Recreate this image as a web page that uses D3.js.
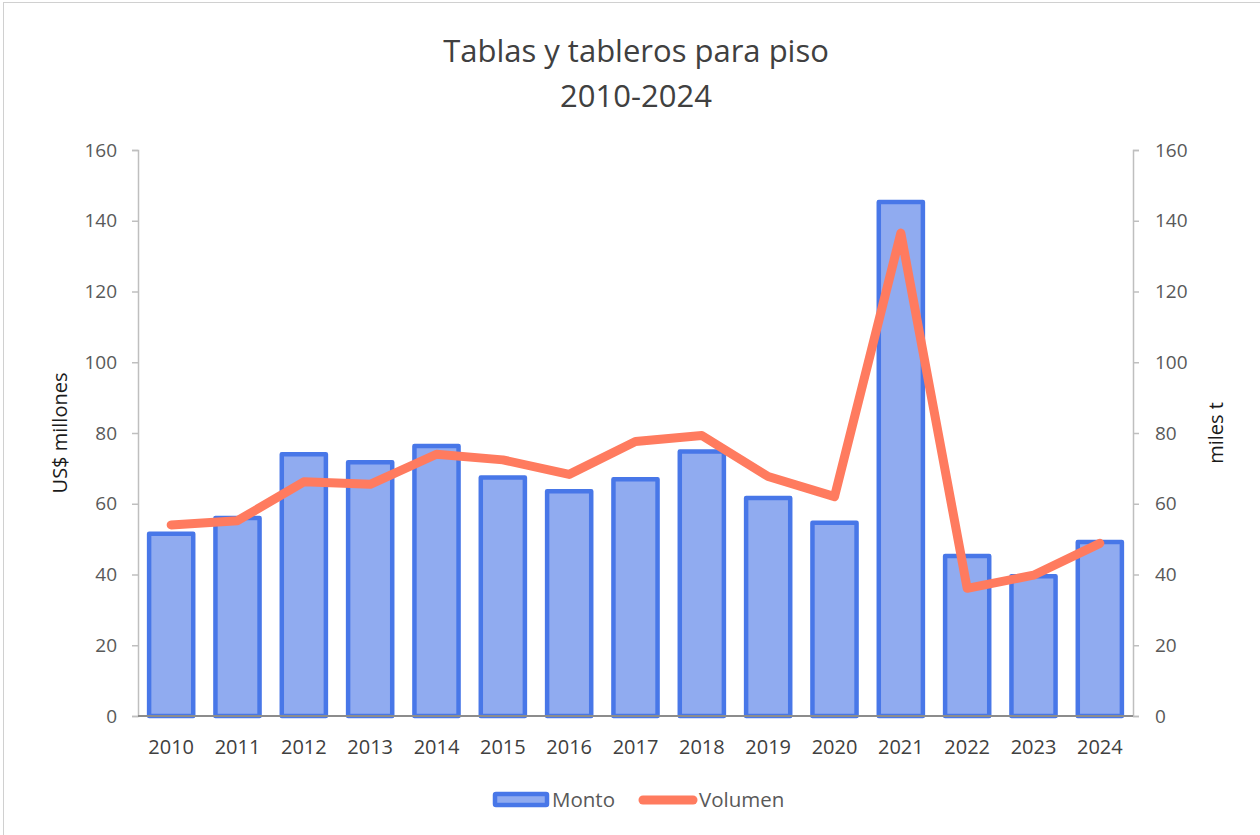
<!DOCTYPE html>
<html>
<head>
<meta charset="utf-8">
<script src="https://cdn.jsdelivr.net/npm/d3@7"></script>
<style>
  body { margin: 0; background: #fff; }
  text { font-family: "Open Sans", "Noto Sans", sans-serif; }
</style>
</head>
<body>
<div id="chart"></div>
<script>
// Chart data
const years = ['2010', '2011', '2012', '2013', '2014', '2015', '2016', '2017', '2018', '2019', '2020', '2021', '2022', '2023', '2024']
const monto = [51.5, 56, 74, 71.7, 76.3, 67.4, 63.5, 66.9, 74.8, 61.6, 54.6, 145.3, 45.2, 39.5, 49.2]
const volumen = [54, 55.2, 66.2, 65.5, 74, 72.4, 68.3, 77.6, 79.3, 67.7, 62, 136.5, 36.1, 39.8, 48.8]
const yTicks = [0, 20, 40, 60, 80, 100, 120, 140, 160]

const width = 1260
const height = 835
const margin = { top: 150, right: 127, bottom: 119, left: 138 }
const innerW = width - margin.left - margin.right
const innerH = height - margin.top - margin.bottom

const svg = d3
  .select('#chart')
  .append('svg')
  .attr('width', width)
  .attr('height', height)

// Outer chart border
svg
  .append('rect')
  .attr('x', 3.5)
  .attr('y', 2.5)
  .attr('width', width + 10)
  .attr('height', height + 10)
  .attr('fill', 'none')
  .attr('stroke', '#d0d0d0')

// Title
const title = svg
  .append('text')
  .attr('text-anchor', 'middle')
  .attr('fill', '#404040')
  .style('font-size', '31px')
title.append('tspan').attr('x', 636).attr('y', 62).text('Tablas y tableros para piso')
title.append('tspan').attr('x', 636).attr('y', 107).text('2010-2024')

const g = svg
  .append('g')
  .attr('transform', `translate(${margin.left},${margin.top})`)

// Scales
const x = d3.scaleBand().domain(years).range([0, innerW]).paddingInner(0.335).paddingOuter(0.1675)
const yLeft = d3.scaleLinear().domain([0, 160]).range([innerH, 0])
const yRight = d3.scaleLinear().domain([0, 160]).range([innerH, 0])

// Axes
const leftAxis = g
  .append('g')
  .call(d3.axisLeft(yLeft).tickValues(yTicks).tickSize(6).tickPadding(15))
const rightAxis = g
  .append('g')
  .attr('transform', `translate(${innerW},0)`)
  .call(d3.axisRight(yRight).tickValues(yTicks).tickSize(6).tickPadding(16))

;[leftAxis, rightAxis].forEach(ax => {
  ax.select('.domain').attr('stroke', '#bfbfbf').attr('stroke-width', 1.5)
  ax.selectAll('.tick line').attr('stroke', '#bfbfbf').attr('stroke-width', 1.5)
  ax.selectAll('.tick text')
    .attr('fill', '#595959')
    .style('font-size', '19px')
    .style('font-family', '"Open Sans", sans-serif')
})

// Bars
g.selectAll('.bar')
  .data(years)
  .enter()
  .append('rect')
  .attr('class', 'bar')
  .attr('x', (d, i) => x(d))
  .attr('width', x.bandwidth())
  .attr('y', (d, i) => yLeft(monto[i]))
  .attr('height', (d, i) => innerH - yLeft(monto[i]))
  .attr('fill', '#90abf0')
  .attr('stroke', '#4877e8')
  .attr('stroke-width', 4.5)
  .attr('stroke-linejoin', 'round')

// Baseline
g.append('line')
  .attr('x1', 0)
  .attr('x2', innerW)
  .attr('y1', innerH)
  .attr('y2', innerH)
  .attr('stroke', '#8c8c8c')
  .attr('stroke-width', 2)

// X labels
const xAxis = g
  .append('g')
  .attr('transform', `translate(0,${innerH})`)
  .call(d3.axisBottom(x).tickSize(0).tickPadding(24))
xAxis.select('.domain').remove()
xAxis.selectAll('.tick text')
  .attr('fill', '#404040')
  .style('font-size', '20px')

// Volumen line
const line = d3
  .line()
  .x((d, i) => x(years[i]) + x.bandwidth() / 2)
  .y(d => yRight(d))

g.append('path')
  .datum(volumen)
  .attr('d', line)
  .attr('fill', 'none')
  .attr('stroke', '#ff7b5f')
  .attr('stroke-width', 9)
  .attr('stroke-linejoin', 'round')
  .attr('stroke-linecap', 'round')

// Axis titles
svg
  .append('text')
  .attr('transform', `translate(67,${margin.top + innerH / 2}) rotate(-90)`)
  .attr('text-anchor', 'middle')
  .attr('fill', '#1a1a1a')
  .style('font-size', '20px')
  .text('US$ millones')

svg
  .append('text')
  .attr('transform', `translate(1223,${margin.top + innerH / 2}) rotate(-90)`)
  .attr('text-anchor', 'middle')
  .attr('fill', '#1a1a1a')
  .style('font-size', '20px')
  .text('miles t')

// Legend
const legend = svg.append('g')
legend
  .append('rect')
  .attr('x', 495)
  .attr('y', 794)
  .attr('width', 52)
  .attr('height', 11)
  .attr('fill', '#90abf0')
  .attr('stroke', '#4877e8')
  .attr('stroke-width', 4.5)
  .attr('rx', 1)
legend
  .append('text')
  .attr('x', 552)
  .attr('y', 807)
  .attr('fill', '#595959')
  .style('font-size', '20.5px')
  .text('Monto')
legend
  .append('line')
  .attr('x1', 643)
  .attr('x2', 693)
  .attr('y1', 800)
  .attr('y2', 800)
  .attr('stroke', '#ff7b5f')
  .attr('stroke-width', 9)
  .attr('stroke-linecap', 'round')
legend
  .append('text')
  .attr('x', 699)
  .attr('y', 807)
  .attr('fill', '#595959')
  .style('font-size', '20.5px')
  .text('Volumen')
</script>
</body>
</html>
